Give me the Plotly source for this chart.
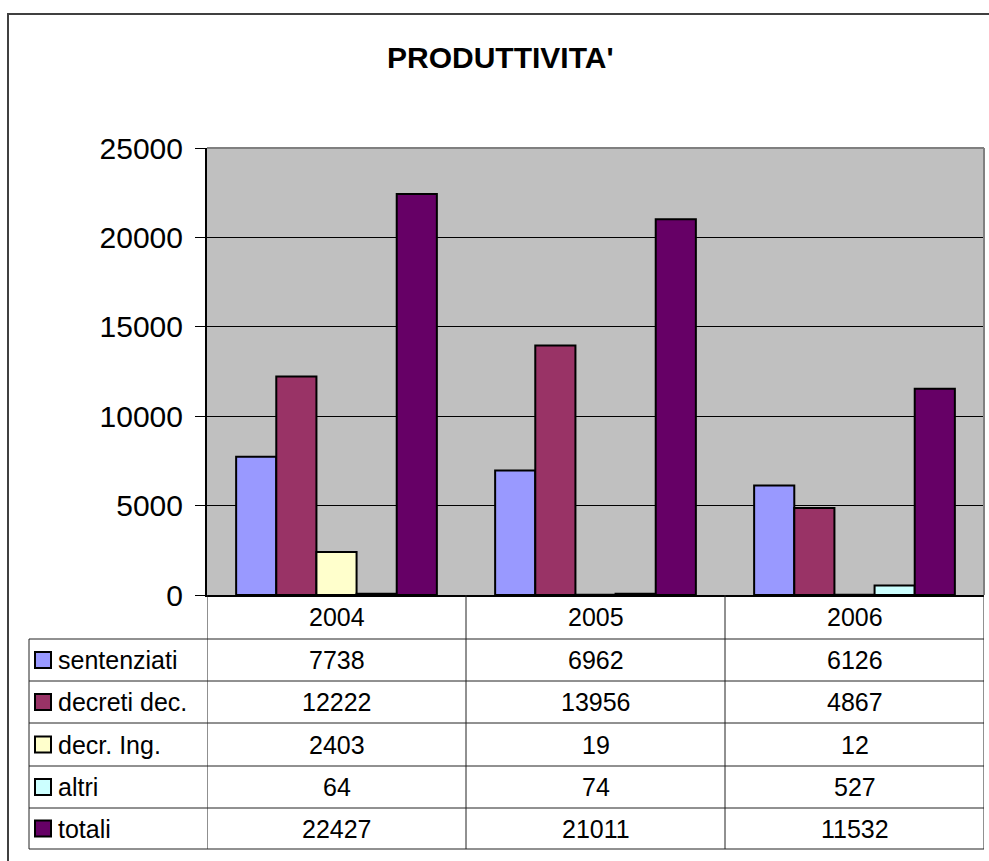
import plotly.graph_objects as go

# ---- data ----
years = ["2004", "2005", "2006"]
series_names = ["sentenziati", "decreti dec.", "decr. Ing.", "altri", "totali"]
sentenziati = [7738, 6962, 6126]
decreti_dec = [12222, 13956, 4867]
decr_ing = [2403, 19, 12]
altri = [64, 74, 527]
totali = [22427, 21011, 11532]
series_values = [sentenziati, decreti_dec, decr_ing, altri, totali]
series_colors = ["#9999FF", "#993366", "#FFFFCC", "#CCFFFF", "#660066"]
y_ticks = [0, 5000, 10000, 15000, 20000, 25000]
title_text = "PRODUTTIVITA'"

# ---- geometry (pixels) ----
WIDTH, HEIGHT = 989, 861
L, R, T, B = 207, 984, 148, 595
PW, PH = R - L, B - T
FONT = "Arial, Liberation Sans, sans-serif"


def px(x):
    return (x - L) / PW


def py(y):
    return (B - y) / PH


fig = go.Figure()
for name, vals, col in zip(series_names, series_values, series_colors):
    fig.add_trace(go.Bar(
        x=years, y=vals, name=name,
        marker=dict(color=col, line=dict(color="black", width=2)),
        showlegend=False,
    ))

shapes = []
annotations = []

# outer frame
shapes.append(dict(type="rect", xref="paper", yref="paper",
                   x0=px(8), x1=px(992), y0=py(866), y1=py(14),
                   line=dict(color="#404040", width=2), fillcolor="rgba(0,0,0,0)", layer="below"))
# plot area border (gray top/right)
shapes.append(dict(type="line", xref="paper", yref="paper", x0=0, x1=1, y0=1, y1=1,
                   line=dict(color="#808080", width=2)))
shapes.append(dict(type="line", xref="paper", yref="paper", x0=1, x1=1, y0=0, y1=1,
                   line=dict(color="#808080", width=2)))

# ---- data table ----
row_lines = [639, 681, 723, 766, 808, 849]
line_col = "#222222"
for yy in row_lines:
    shapes.append(dict(type="line", xref="paper", yref="paper", x0=px(29), x1=1,
                       y0=py(yy), y1=py(yy), line=dict(color=line_col, width=1)))
shapes.append(dict(type="line", xref="paper", yref="paper", x0=px(29), x1=px(29),
                   y0=py(row_lines[0]), y1=py(row_lines[-1]), line=dict(color=line_col, width=1)))
# category boundaries through the x axis scale
for i in range(len(years) + 1):
    xb = i - 0.5
    shapes.append(dict(type="line", xref="x", yref="paper", x0=xb, x1=xb,
                       y0=0, y1=py(row_lines[-1]), line=dict(color=line_col, width=1)))

# header (years)
for i, yr in enumerate(years):
    annotations.append(dict(x=i, xref="x", y=py((B + row_lines[0]) / 2), yref="paper",
                            text=yr, showarrow=False, xanchor="center", yanchor="middle",
                            font=dict(family=FONT, size=25, color="black")))

# data rows
for r, (name, vals, col) in enumerate(zip(series_names, series_values, series_colors)):
    yc = (row_lines[r] + row_lines[r + 1]) / 2
    shapes.append(dict(type="rect", xref="paper", yref="paper",
                       x0=px(35), x1=px(51), y0=py(yc + 8), y1=py(yc - 8),
                       fillcolor=col, line=dict(color="black", width=2)))
    annotations.append(dict(x=px(56), xref="paper", y=py(yc), yref="paper",
                            text=name, showarrow=False, xanchor="left", yanchor="middle",
                            font=dict(family=FONT, size=25, color="black")))
    for i, v in enumerate(vals):
        annotations.append(dict(x=i, xref="x", y=py(yc), yref="paper",
                                text=str(v), showarrow=False, xanchor="center", yanchor="middle",
                                font=dict(family=FONT, size=25, color="black")))

# title
annotations.append(dict(x=px(500), xref="paper", y=py(57), yref="paper", text="<b>" + title_text + "</b>",
                        showarrow=False, xanchor="center", yanchor="middle",
                        font=dict(family=FONT, size=30, color="black")))

fig.update_layout(
    width=WIDTH, height=HEIGHT,
    margin=dict(l=L, r=WIDTH - R, t=T, b=HEIGHT - B, pad=0),
    paper_bgcolor="white", plot_bgcolor="#C0C0C0",
    barmode="group", bargap=0.225, bargroupgap=0,
    font=dict(family=FONT, color="black"),
    shapes=shapes, annotations=annotations,
    xaxis=dict(type="category", range=[-0.5, 2.5], showticklabels=False, showgrid=False,
               showline=True, linecolor="black", linewidth=2, ticks="", zeroline=False),
    yaxis=dict(range=[0, 25000], tickvals=y_ticks, ticktext=[str(v) for v in y_ticks],
               showgrid=True, gridcolor="black", gridwidth=1,
               showline=True, linecolor="black", linewidth=2,
               ticks="outside", ticklen=10, tickcolor="black", tickwidth=1,
               ticklabelstandoff=6,
               tickfont=dict(family=FONT, size=30, color="black"), zeroline=False),
)

fig.write_html("out.html", config={"displayModeBar": False},
               post_script="document.body.style.margin='0';document.body.style.overflow='hidden';")
